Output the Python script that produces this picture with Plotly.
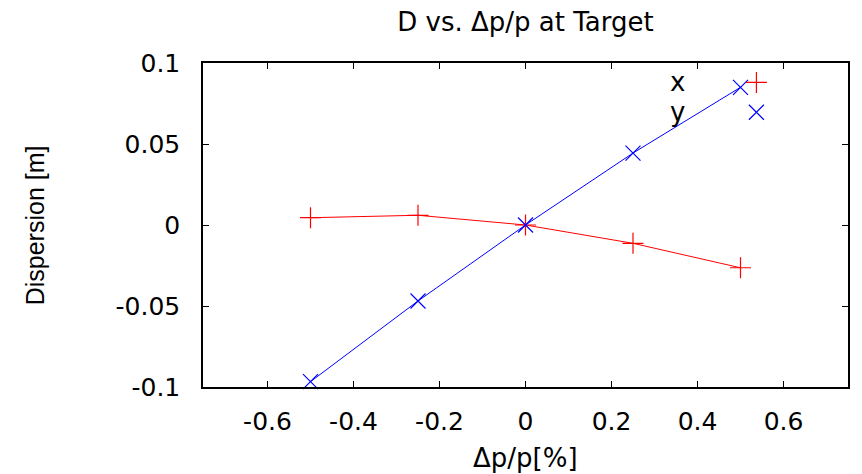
import plotly.graph_objects as go

# Momentum offset (percent) and dispersion at the target (m)
dp_percent = [-0.5, -0.25, 0.0, 0.25, 0.5]
disp_x = [0.0045, 0.0060, 0.0, -0.0113, -0.0264]
disp_y = [-0.0967, -0.0469, 0.0, 0.0444, 0.0850]

series_names = ["x", "y"]
series_colors = ["#ff0000", "#0000ff"]
series_symbols = ["cross-thin", "x-thin"]

x_ticks = [-0.6, -0.4, -0.2, 0, 0.2, 0.4, 0.6]
x_tick_text = ["-0.6", "-0.4", "-0.2", "0", "0.2", "0.4", "0.6"]
y_ticks = [-0.1, -0.05, 0, 0.05, 0.1]
y_tick_text = ["-0.1", "-0.05", "0", "0.05", "0.1"]

tick_font = dict(family="DejaVu Sans", size=25, color="black")

fig = go.Figure()

for name, vals, col, sym in zip(series_names, [disp_x, disp_y], series_colors, series_symbols):
    fig.add_trace(go.Scatter(
        x=dp_percent, y=vals, mode="lines+markers", name=name,
        line=dict(color=col, width=1),
        marker=dict(symbol=sym, size=15, line=dict(color=col, width=1.2), color=col),
        showlegend=False, cliponaxis=False,
    ))

# Key in the upper right: label text followed by the point sample
key_x_text = 0.735
key_x_mark = 0.858
key_rows = [0.94, 0.848]
for name, col, sym, ky in zip(series_names, series_colors, series_symbols, key_rows):
    fig.add_trace(go.Scatter(
        x=[key_x_mark], y=[ky], xaxis="x2", yaxis="y2", mode="markers",
        marker=dict(symbol=sym, size=15, line=dict(color=col, width=1.2), color=col),
        showlegend=False, hoverinfo="skip", cliponaxis=False,
    ))
    fig.add_annotation(x=key_x_text, y=ky, xref="x2", yref="y2", text=name,
                       showarrow=False, xanchor="center", yanchor="middle",
                       font=dict(family="DejaVu Sans", size=26, color="black"))

axis_common = dict(
    showline=True, linecolor="black", linewidth=1.5, mirror="allticks",
    ticks="inside", ticklen=6, tickwidth=1, tickcolor="black",
    showgrid=False, zeroline=False, tickfont=tick_font,
)

fig.update_layout(
    width=862, height=474,
    margin=dict(l=203, r=14, t=63, b=87),
    paper_bgcolor="white", plot_bgcolor="white",
    xaxis=dict(range=[-0.75, 0.75], tickvals=x_ticks, ticktext=x_tick_text,
               ticklabelstandoff=11, **axis_common),
    yaxis=dict(range=[-0.1, 0.1], tickvals=y_ticks, ticktext=y_tick_text,
               ticklabelstandoff=16, **axis_common),
    xaxis2=dict(range=[0, 1], overlaying="x", visible=False),
    yaxis2=dict(range=[0, 1], overlaying="y", visible=False),
    title=dict(text="D vs. \u0394p/p at Target", x=0.5, xref="paper",
               y=1 - 22 / 474, yref="container", xanchor="center", yanchor="middle",
               font=dict(family="DejaVu Sans", size=26, color="black")),
)

fig.add_annotation(text="\u0394p/p[%]", x=0.5, y=-0.219, xref="paper", yref="paper",
                   showarrow=False, xanchor="center", yanchor="middle",
                   font=dict(family="DejaVu Sans", size=26, color="black"))
fig.add_annotation(text="Dispersion [m]", x=-0.26, y=0.5, xref="paper", yref="paper",
                   showarrow=False, xanchor="center", yanchor="middle", textangle=-90,
                   font=dict(family="Liberation Sans", size=25, color="black"))

fig.write_html("out.html")
